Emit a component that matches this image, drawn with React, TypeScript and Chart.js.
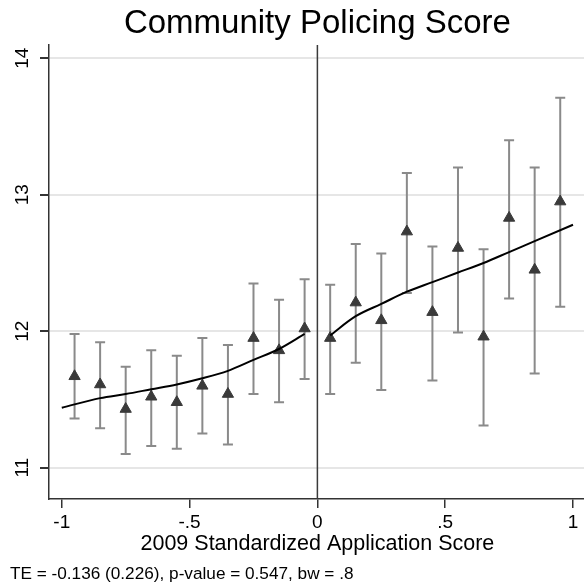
import React, { useEffect, useRef } from "react";
import { Chart, registerables } from "chart.js";

Chart.register(...registerables);

// Binned means of the outcome with 95% confidence intervals
const binCenters = [
  -0.95, -0.85, -0.75, -0.65, -0.55, -0.45, -0.35, -0.25, -0.15, -0.05,
  0.05, 0.15, 0.25, 0.35, 0.45, 0.55, 0.65, 0.75, 0.85, 0.95,
];
const binMeans = [
  11.67, 11.61, 11.43, 11.52, 11.48, 11.6, 11.54, 11.95, 11.86, 12.02,
  11.95, 12.21, 12.08, 12.73, 12.14, 12.61, 11.96, 12.83, 12.45, 12.95,
];
const ciLower = [
  11.36, 11.29, 11.1, 11.16, 11.14, 11.25, 11.17, 11.54, 11.48, 11.65,
  11.54, 11.77, 11.57, 12.28, 11.64, 11.99, 11.31, 12.24, 11.69, 12.18,
];
const ciUpper = [
  11.98, 11.92, 11.74, 11.86, 11.82, 11.95, 11.9, 12.35, 12.23, 12.38,
  12.34, 12.64, 12.57, 13.16, 12.62, 13.2, 12.6, 13.4, 13.2, 13.71,
];

// Local polynomial fit on each side of the cutoff
const fitLeftX = [-1.0, -0.85, -0.75, -0.65, -0.55, -0.45, -0.35, -0.25, -0.15, -0.05];
const fitLeftY = [11.44, 11.51, 11.54, 11.575, 11.61, 11.655, 11.71, 11.79, 11.87, 11.98];
const fitRightX = [0.05, 0.15, 0.25, 0.35, 0.45, 0.55, 0.65, 0.75, 0.85, 1.0];
const fitRightY = [11.97, 12.11, 12.2, 12.29, 12.36, 12.43, 12.5, 12.58, 12.66, 12.78];

const xTickValues = [-1, -0.5, 0, 0.5, 1];
const xTickLabels = ["-1", "-.5", "0", ".5", "1"];
const yTickValues = [11, 12, 13, 14];
const yTickLabels = ["11", "12", "13", "14"];

const cutoff = 0;
const titleText = "Community Policing Score";
const xAxisTitle = "2009 Standardized Application Score";
const noteText = "TE = -0.136 (0.226), p-value = 0.547, bw = .8";

const FONT = '"Liberation Sans", Arial, Helvetica, sans-serif';
const AXIS_COLOR = "#333333";

const rdPlugin = {
  id: "rdDecorations",
  beforeDatasetsDraw(chart: any) {
    const { ctx, chartArea, scales } = chart;
    const x = scales.x;
    const y = scales.y;
    ctx.save();
    // cutoff line
    const cx = x.getPixelForValue(cutoff);
    ctx.strokeStyle = "#3a3a3a";
    ctx.lineWidth = 1.5;
    ctx.beginPath();
    ctx.moveTo(cx, chartArea.top);
    ctx.lineTo(cx, chartArea.bottom);
    ctx.stroke();
    // confidence interval bars with caps
    ctx.strokeStyle = "#8a8a8a";
    ctx.lineWidth = 2;
    binCenters.forEach((b, i) => {
      const px = x.getPixelForValue(b);
      const top = y.getPixelForValue(ciUpper[i]);
      const bot = y.getPixelForValue(ciLower[i]);
      ctx.beginPath();
      ctx.moveTo(px, top);
      ctx.lineTo(px, bot);
      ctx.moveTo(px - 5, top);
      ctx.lineTo(px + 5, top);
      ctx.moveTo(px - 5, bot);
      ctx.lineTo(px + 5, bot);
      ctx.stroke();
    });
    ctx.restore();
  },
  afterDraw(chart: any) {
    const { ctx, scales } = chart;
    const x = scales.x;
    const y = scales.y;
    ctx.save();
    ctx.fillStyle = "#000000";

    // title
    ctx.font = `33px ${FONT}`;
    ctx.textAlign = "center";
    ctx.textBaseline = "alphabetic";
    ctx.fillText(titleText, x.getPixelForValue(0), 33);

    // y tick labels, rotated
    ctx.font = `19px ${FONT}`;
    yTickValues.forEach((v, i) => {
      const py = y.getPixelForValue(v);
      ctx.save();
      ctx.translate(22, py);
      ctx.rotate(-Math.PI / 2);
      ctx.textAlign = "center";
      ctx.textBaseline = "middle";
      ctx.fillText(yTickLabels[i], 0, 1);
      ctx.restore();
    });

    // x tick labels
    ctx.textAlign = "center";
    ctx.textBaseline = "alphabetic";
    xTickValues.forEach((v, i) => {
      ctx.fillText(xTickLabels[i], x.getPixelForValue(v), 528);
    });

    // x axis title
    ctx.font = `21.5px ${FONT}`;
    ctx.fillText(xAxisTitle, x.getPixelForValue(0), 550);

    // note
    ctx.font = `17.2px ${FONT}`;
    ctx.textAlign = "left";
    ctx.fillText(noteText, 10, 579);
    ctx.restore();
  },
};

export default function App() {
  const canvasRef = useRef<HTMLCanvasElement | null>(null);

  useEffect(() => {
    if (!canvasRef.current) return;
    const chart = new Chart(canvasRef.current, {
      type: "scatter",
      data: {
        datasets: [
          {
            type: "line",
            data: fitLeftX.map((v, i) => ({ x: v, y: fitLeftY[i] })),
            borderColor: "#000000",
            borderWidth: 2,
            pointRadius: 0,
            cubicInterpolationMode: "monotone",
            fill: false,
          },
          {
            type: "line",
            data: fitRightX.map((v, i) => ({ x: v, y: fitRightY[i] })),
            borderColor: "#000000",
            borderWidth: 2,
            pointRadius: 0,
            cubicInterpolationMode: "monotone",
            fill: false,
          },
          {
            type: "scatter",
            data: binCenters.map((v, i) => ({ x: v, y: binMeans[i] })),
            pointStyle: "triangle",
            pointRadius: 6.5,
            pointBackgroundColor: "#3a3a3a",
            pointBorderColor: "#3a3a3a",
            pointBorderWidth: 1,
          },
        ],
      },
      options: {
        animation: false,
        responsive: false,
        events: [],
        layout: { autoPadding: false, padding: { top: 45, left: 0, right: 0, bottom: 0 } },
        plugins: {
          legend: { display: false },
          tooltip: { enabled: false },
          title: { display: false },
        },
        scales: {
          x: {
            type: "linear",
            min: -1.05,
            max: 1.043,
            afterBuildTicks: (scale: any) => {
              scale.ticks = xTickValues.map((v) => ({ value: v }));
            },
            afterFit: (scale: any) => {
              scale.height = 88;
              scale.paddingLeft = 0;
              scale.paddingRight = 0;
            },
            ticks: { display: false },
            grid: {
              drawOnChartArea: false,
              drawTicks: true,
              tickLength: 9,
              tickColor: AXIS_COLOR,
              lineWidth: 1.5,
            },
            border: { display: true, color: AXIS_COLOR, width: 1.5 },
          },
          y: {
            type: "linear",
            min: 10.771,
            max: 14.097,
            afterBuildTicks: (scale: any) => {
              scale.ticks = yTickValues.map((v) => ({ value: v }));
            },
            afterFit: (scale: any) => {
              scale.width = 49;
              scale.paddingTop = 0;
              scale.paddingBottom = 0;
            },
            ticks: { display: false },
            grid: {
              color: "#e6e6e6",
              lineWidth: 2,
              drawTicks: true,
              tickLength: 9,
              tickColor: AXIS_COLOR,
            },
            border: { display: true, color: AXIS_COLOR, width: 1.5 },
          },
        },
      },
      plugins: [rdPlugin],
    } as any);
    return () => chart.destroy();
  }, []);

  return (
    <div style={{ position: "absolute", left: 0, top: 0, width: 584, height: 587, background: "#ffffff" }}>
      <canvas ref={canvasRef} width={584} height={587} style={{ width: 584, height: 587 }} />
    </div>
  );
}
